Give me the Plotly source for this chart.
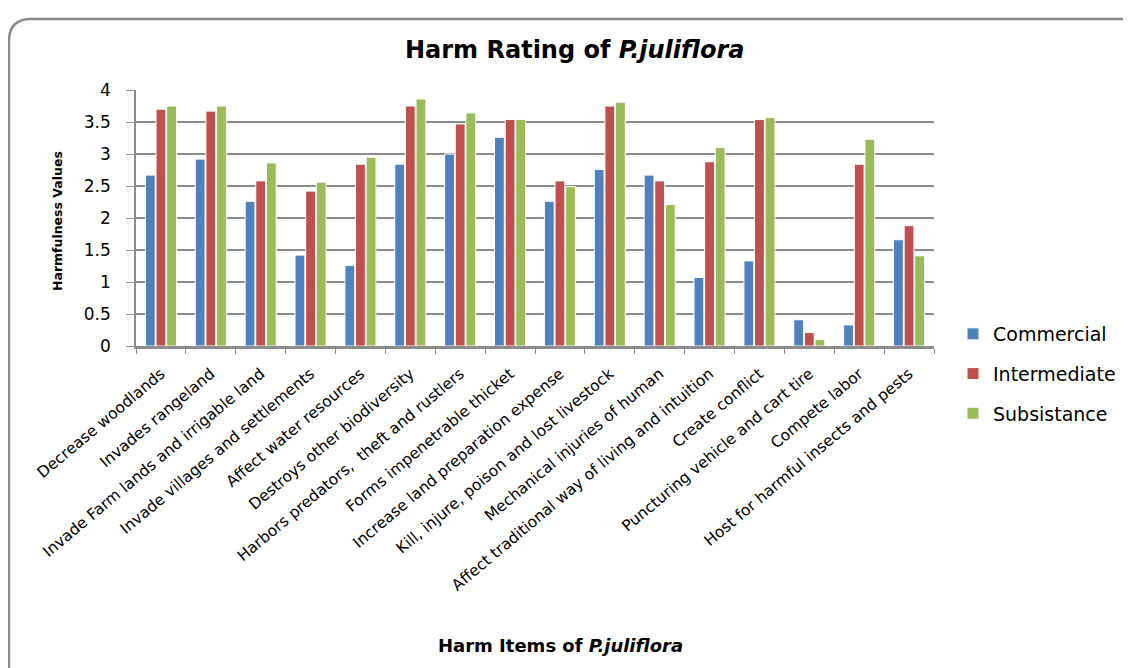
import plotly.graph_objects as go

categories = [
    "Decrease woodlands", "Invades rangeland", "Invade Farm lands and irrigable land",
    "Invade villages and settlements", "Affect water resources", "Destroys other biodiversity",
    "Harbors predators,  theft and rustlers", "Forms impenetrable thicket",
    "Increase land preparation expense", "Kill, injure, poison and lost livestock",
    "Mechanical injuries of human", "Affect traditional way of living and intuition",
    "Create conflict", "Puncturing vehicle and cart tire", "Compete labor",
    "Host for harmful insects and pests",
]
commercial = [2.67, 2.92, 2.26, 1.42, 1.26, 2.84, 3.00, 3.26, 2.26, 2.76, 2.67, 1.07, 1.33, 0.41, 0.33, 1.66]
intermediate = [3.70, 3.67, 2.58, 2.42, 2.84, 3.75, 3.47, 3.54, 2.58, 3.75, 2.58, 2.88, 3.54, 0.21, 2.84, 1.88]
subsistance = [3.75, 3.75, 2.86, 2.56, 2.95, 3.86, 3.64, 3.54, 2.49, 3.81, 2.21, 3.10, 3.57, 0.10, 3.23, 1.41]

series = [("Commercial", commercial, "#4F81BD"),
          ("Intermediate", intermediate, "#C0504D"),
          ("Subsistance", subsistance, "#9BBB59")]

fig = go.Figure()
for name, vals, col in series:
    fig.add_trace(go.Bar(x=categories, y=vals, name=name, legendgroup=name,
                         marker=dict(color=col, line=dict(color="white", width=1))))

OFF = 8  # page body margin
W, H = 1131 - OFF, 668 - OFF
L, R, T, B = 136 - OFF, 934 - OFF, 90 - OFF, 346 - OFF
pw, ph = R - L, B - T

def px(x):
    return (x - OFF - L) / pw

def py(y):
    return (B - (y - OFF)) / ph

# rounded outer frame
x0, y0, x1, y1 = px(9), py(19), px(1140), py(680)
rx, ry = 22 / pw, 22 / ph
frame_path = (f"M {x0},{y1} L {x0},{y0 - ry} Q {x0},{y0} {x0 + rx},{y0} L {x1},{y0}")

TF = "DejaVu Sans, Verdana, sans-serif"

fig.update_layout(
    width=W, height=H,
    margin=dict(l=L, r=W - R, t=T, b=H - B, autoexpand=False),
    paper_bgcolor="white", plot_bgcolor="white",
    barmode="group", bargap=0.36, bargroupgap=0.08,
    font=dict(family=TF, color="black"),
    showlegend=True,
    legend=dict(x=px(953), y=py(315), xanchor="left", yanchor="top",
                font=dict(size=19, family=TF),
                traceorder="grouped", tracegroupgap=12, itemwidth=30),
    shapes=[dict(type="path", path=frame_path, xref="paper", yref="paper",
                 line=dict(color="#8a8a8a", width=2.5))],
    annotations=[
        dict(text="<b>Harm Rating of <i>P.juliflora</i></b>", x=px(574), y=py(50),
             xref="paper", yref="paper", showarrow=False, xanchor="center", yanchor="middle",
             font=dict(size=24, family=TF)),
        dict(text="<b>Harmfulness Values</b>", x=px(57), y=py(221), textangle=-90,
             xref="paper", yref="paper", showarrow=False, xanchor="center", yanchor="middle",
             font=dict(size=12.5, family=TF)),
        dict(text="<b>Harm Items of <i>P.juliflora</i></b>", x=px(560), y=py(645),
             xref="paper", yref="paper", showarrow=False, xanchor="center", yanchor="middle",
             font=dict(size=18, family=TF)),
    ],
)
fig.update_yaxes(range=[0, 4], dtick=0.5, showgrid=True, gridcolor="#8c8c8c", gridwidth=1.5,
                 showline=True, linecolor="#8c8c8c", linewidth=1.5,
                 ticks="outside", ticklen=8, tickcolor="#8c8c8c", ticklabelstandoff=12,
                 tickfont=dict(size=17, family=TF), zeroline=False)
fig.update_xaxes(showline=True, linecolor="#8c8c8c", linewidth=2.5,
                 ticks="outside", ticklen=5, tickcolor="#8c8c8c", tickson="boundaries",
                 ticklabelstandoff=10,
                 tickangle=-40, tickfont=dict(size=15.5, family=TF))

fig.write_html("out.html")
